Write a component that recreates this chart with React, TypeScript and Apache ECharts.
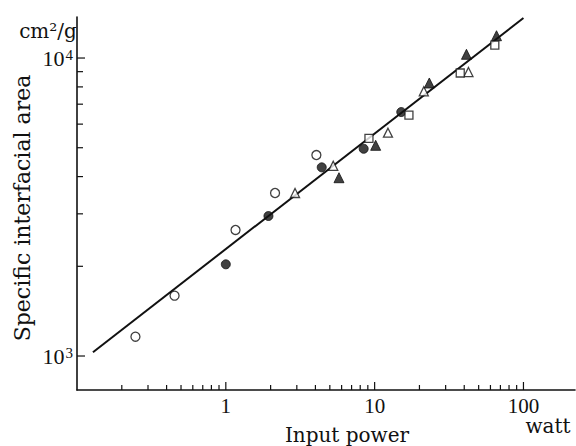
import React, { useEffect, useRef } from 'react';
import * as echarts from 'echarts';

// axis ranges (log scales)
const X_MIN = 0.1;
const X_MAX = 222;
const Y_MIN = 769;
const Y_MAX = 13730;

// tick values
const xMajorTicks = [1, 10, 100];
const xMinorTicks = [0.2, 0.3, 0.4, 0.5, 0.6, 0.7, 0.8, 0.9, 2, 3, 4, 5, 6, 7, 8, 9, 20, 30, 40, 50, 60, 70, 80, 90];
const yMajorTicks = [1000, 10000];
const yMinorTicks = [2000, 3000, 4000, 5000, 6000, 7000, 8000, 9000];
const xTickLabels = ['1', '10', '100'];

// data (input power [W], specific interfacial area [cm2/g])
const openCircles = [[0.247, 1161], [0.4525, 1594], [1.162, 2648], [2.142, 3524], [4.06, 4726]];
const filledCircles = [[1.0, 2031], [1.934, 2950], [4.41, 4297], [8.44, 4961], [15.1, 6588]];
const openTriangles = [[2.918, 3524], [5.27, 4348], [12.29, 5615], [21.4, 7732], [42.7, 8974]];
const filledTriangles = [[5.76, 3966], [10.16, 5093], [23.3, 8245], [41.4, 10290], [65.9, 11880]];
const openSquares = [[9.16, 5378], [17.0, 6436], [37.6, 8906], [64.2, 11056]];
const fitLine = [[0.128, 1030], [100, 13630]];

const SERIF = '"DejaVu Serif", serif';
const NUMFONT = '"Liberation Serif", "Times New Roman", serif';
const INK = '#111';

function isPow10(v: number) {
  const l = Math.log10(v);
  return Math.abs(l - Math.round(l)) < 1e-6;
}

function tickSeries(data: number[][], dir: 'x' | 'y', len: number) {
  return {
    type: 'custom',
    coordinateSystem: 'cartesian2d',
    silent: true,
    clip: false,
    z: 5,
    data,
    renderItem: (params: any, api: any) => {
      const p = api.coord([api.value(0), api.value(1)]);
      const shape = dir === 'x'
        ? { x1: p[0], y1: p[1], x2: p[0], y2: p[1] - len }
        : { x1: p[0], y1: p[1], x2: p[0] + len, y2: p[1] };
      return { type: 'line', shape, style: { stroke: INK, lineWidth: 1.2 } };
    },
  };
}

export default function App() {
  const ref = useRef<HTMLDivElement>(null);
  useEffect(() => {
    if (!ref.current) return;
    const chart = echarts.init(ref.current, null, { renderer: 'svg' });
    const openStyle = { color: '#fff', borderColor: INK, borderWidth: 1.3 };
    const fillStyle = { color: INK, borderColor: INK, borderWidth: 1 };
    chart.setOption({
      animation: false,
      backgroundColor: '#fff',
      grid: { left: 77, right: 1, top: 17, bottom: 56, containLabel: false, outerBoundsMode: 'none' },
      xAxis: {
        type: 'log',
        logBase: 10,
        min: X_MIN,
        max: X_MAX,
        axisLine: { show: true, lineStyle: { color: INK, width: 1.6 } },
        axisTick: { show: false },
        splitLine: { show: false },
        minorTick: { show: false },
        axisLabel: {
          margin: 5,
          color: INK,
          fontFamily: NUMFONT,
          fontSize: 21,
          formatter: (v: number) => {
            if (!isPow10(v)) return '';
            const i = xMajorTicks.findIndex((t) => Math.abs(t - v) < 1e-6 * t);
            return i >= 0 ? xTickLabels[i] : '';
          },
        },
      },
      yAxis: {
        type: 'log',
        logBase: 10,
        min: Y_MIN,
        max: Y_MAX,
        axisLine: { show: true, lineStyle: { color: INK, width: 1.6 } },
        axisTick: { show: false },
        splitLine: { show: false },
        minorTick: { show: false },
        axisLabel: {
          margin: 4,
          color: INK,
          formatter: (v: number) => {
            if (!isPow10(v)) return '';
            const e = Math.round(Math.log10(v));
            if (e < 3 || e > 4) return '';
            return '{b|10}{s|' + e + '}';
          },
          rich: {
            b: { fontFamily: NUMFONT, fontSize: 22, lineHeight: 22, color: INK },
            s: { fontFamily: NUMFONT, fontSize: 15, lineHeight: 15, color: INK, verticalAlign: 'top', padding: [0, 0, 0, 1] },
          },
        },
      },
      graphic: [
        { type: 'text', x: 48, y: 31, style: { text: 'cm²/g', fontFamily: SERIF, fontSize: 20, fill: INK, align: 'center', verticalAlign: 'middle' } },
        { type: 'text', x: 347, y: 435, style: { text: 'Input power', fontFamily: SERIF, fontSize: 20, fill: INK, align: 'center', verticalAlign: 'middle' } },
        { type: 'text', x: 548, y: 426, style: { text: 'watt', fontFamily: SERIF, fontSize: 20, fill: INK, align: 'center', verticalAlign: 'middle' } },
        { type: 'text', x: 22, y: 208, rotation: Math.PI / 2, style: { text: 'Specific interfacial area', fontFamily: SERIF, fontSize: 22, fill: INK, align: 'center', verticalAlign: 'middle' } },
      ],
      series: [
        tickSeries(xMinorTicks.map((v) => [v, Y_MIN]), 'x', 5),
        tickSeries(xMajorTicks.map((v) => [v, Y_MIN]), 'x', 8),
        tickSeries(yMinorTicks.map((v) => [X_MIN, v]), 'y', 6),
        tickSeries(yMajorTicks.map((v) => [X_MIN, v]), 'y', 8),
        {
          type: 'line',
          data: fitLine,
          showSymbol: false,
          symbol: 'none',
          lineStyle: { color: INK, width: 2 },
          z: 2,
        },
        { type: 'scatter', data: openCircles, symbol: 'circle', symbolSize: 9, itemStyle: openStyle, z: 3 },
        { type: 'scatter', data: filledCircles, symbol: 'circle', symbolSize: 9, itemStyle: fillStyle, z: 3 },
        { type: 'scatter', data: openTriangles, symbol: 'triangle', symbolSize: 9, itemStyle: openStyle, z: 3 },
        { type: 'scatter', data: filledTriangles, symbol: 'triangle', symbolSize: 10, itemStyle: fillStyle, z: 3 },
        { type: 'scatter', data: openSquares, symbol: 'rect', symbolSize: 8, itemStyle: openStyle, z: 3 },
      ],
    });
    return () => chart.dispose();
  }, []);
  return <div ref={ref} style={{ position: 'fixed', left: 0, top: 0, width: 576, height: 446, background: '#fff' }} />;
}
